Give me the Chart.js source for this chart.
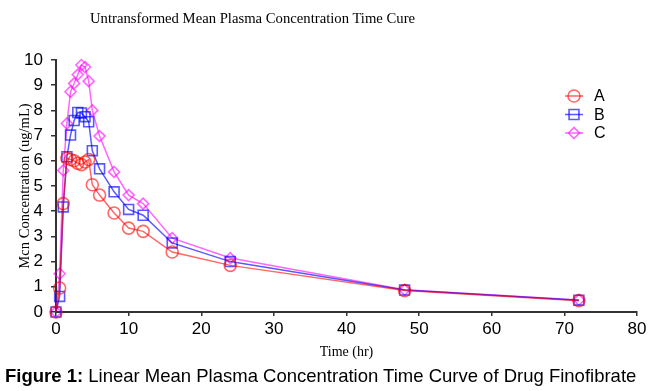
<!DOCTYPE html>
<html>
<head>
<meta charset="utf-8">
<script src="https://cdn.jsdelivr.net/npm/chart.js@4"></script>
<style>
  body { margin: 0; background: #fff; }
  #wrap { position: relative; width: 663px; height: 391px; }
  #plot { position: absolute; left: 0; top: 0; }
  #title { position: absolute; left: 90px; top: 10px; font: 14.7px "Liberation Serif", "Times New Roman", serif; color: #000; white-space: nowrap; }
  #caption { position: absolute; left: 5px; top: 365px; font: 18.5px "Liberation Sans", Arial, sans-serif; color: #000; white-space: nowrap; }
</style>
</head>
<body>
<div id="wrap">
  <canvas id="plot" width="663" height="391"></canvas>
  <div id="title">Untransformed Mean Plasma Concentration Time Cure</div>
  <div id="caption"><b>Figure 1:</b> Linear Mean Plasma Concentration Time Curve of Drug Finofibrate</div>
</div>
<script>
// sampling times (hr)
const times = [0, 0.5, 1, 1.5, 2, 2.5, 3, 3.5, 4, 4.5, 5, 6, 8, 10, 12, 16, 24, 48, 72];

// mean concentrations (ug/mL)
const seriesA = [0, 0.95, 4.3, 6.1, 6.05, 6.0, 5.9, 5.85, 5.95, 6.05, 5.05, 4.64, 3.93, 3.33, 3.2, 2.38, 1.85, 0.85, 0.45];
const seriesB = [0, 0.62, 4.17, 6.16, 7.02, 7.6, 7.92, 7.9, 7.75, 7.55, 6.4, 5.68, 4.77, 4.07, 3.84, 2.74, 2.0, 0.87, 0.47];
const seriesC = [0, 1.52, 5.62, 7.48, 8.74, 9.07, 9.42, 9.8, 9.72, 9.16, 8.0, 6.98, 5.56, 4.64, 4.3, 2.93, 2.14, 0.88, 0.48];

const xTicks = [0, 10, 20, 30, 40, 50, 60, 70, 80];
const yTicks = [0, 1, 2, 3, 4, 5, 6, 7, 8, 9, 10];

function toPoints(vals) {
    return times.map((t, i) => ({ x: t, y: vals[i] }));
}

function makeSet(label, vals, color, style, radius) {
    return {
        label: label,
        data: toPoints(vals),
        borderColor: color,
        backgroundColor: 'rgba(0,0,0,0)',
        borderWidth: 1.5,
        pointStyle: style,
        pointRadius: radius,
        pointBorderWidth: 1.6,
        pointBorderColor: color,
        pointBackgroundColor: 'rgba(0,0,0,0)',
        clip: false,
        tension: 0
    };
}

// legend with line + marker, like the original
const lineLegend = {
    id: 'lineLegend',
    afterDraw(chart) {
        const ctx = chart.ctx;
        ctx.save();
        chart.data.datasets.forEach((ds, i) => {
            const y = 96 + i * 18.5;
            ctx.strokeStyle = ds.borderColor;
            ctx.lineWidth = 1.5;
            ctx.beginPath();
            ctx.moveTo(565, y);
            ctx.lineTo(583, y);
            ctx.stroke();
            ctx.lineWidth = 1.6;
            ctx.fillStyle = 'rgba(0,0,0,0)';
            Chart.helpers.drawPoint(ctx, { pointStyle: ds.pointStyle, radius: ds.pointRadius, borderWidth: 1.6, rotation: 0 }, 574, y);
            ctx.fillStyle = '#000';
            ctx.font = '16px "Liberation Sans", Arial, sans-serif';
            ctx.textBaseline = 'middle';
            ctx.fillText(ds.label, 594, y + 1);
        });
        ctx.restore();
    }
};

const tickFont = { family: '"Liberation Sans", Arial, sans-serif', size: 17 };

new Chart(document.getElementById('plot'), {
    type: 'line',
    data: {
        datasets: [
            makeSet('A', seriesA, 'rgba(255,0,0,0.6)', 'circle', 6),
            makeSet('B', seriesB, 'rgba(0,0,255,0.65)', 'rect', 7),
            makeSet('C', seriesC, 'rgba(255,0,255,0.6)', 'rectRot', 5.5)
        ]
    },
    options: {
        responsive: false,
        animation: false,
        layout: { padding: { top: 60, right: 26, left: 0, bottom: 0 } },
        plugins: { legend: { display: false }, tooltip: { enabled: false } },
        scales: {
            x: {
                type: 'linear',
                min: 0,
                max: 80,
                afterBuildTicks: s => { s.ticks = xTicks.map(v => ({ value: v })); },
                afterFit: s => { s.height = 79; },
                border: { color: '#333', width: 2 },
                grid: { drawOnChartArea: false, drawTicks: true, tickLength: 4, color: '#333', lineWidth: 1.5 },
                ticks: { color: '#000', font: tickFont, padding: 3, maxRotation: 0 },
                title: { display: true, text: 'Time (hr)', color: '#000',
                    font: { family: '"Liberation Serif", "Times New Roman", serif', size: 14 },
                    padding: { top: 0, bottom: 30 } }
            },
            y: {
                min: 0,
                max: 10,
                afterBuildTicks: s => { s.ticks = yTicks.map(v => ({ value: v })); },
                afterFit: s => { s.width = 56; },
                border: { color: '#333', width: 2 },
                grid: { drawOnChartArea: false, drawTicks: true, tickLength: 5, color: '#333', lineWidth: 1.5 },
                ticks: { color: '#000', font: tickFont, padding: 8 },
                title: { display: true, text: 'Mcn Concentration (ug/mL)', color: '#000',
                    font: { family: '"Liberation Serif", "Times New Roman", serif', size: 14.6 },
                    padding: { top: 16, bottom: 0 } }
            }
        }
    },
    plugins: [lineLegend]
});
</script>
</body>
</html>
